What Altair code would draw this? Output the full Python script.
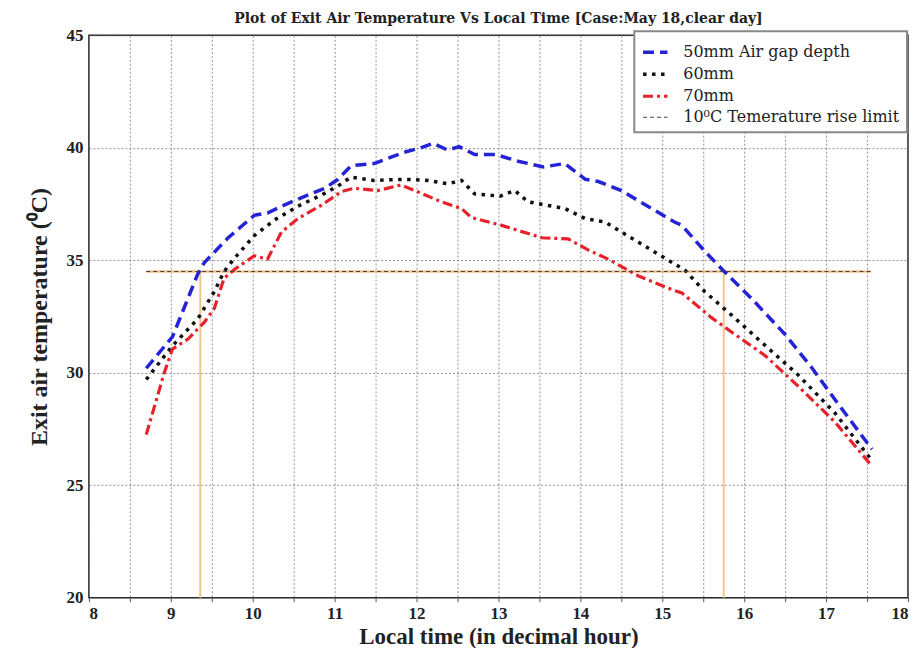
import altair as alt
import pandas as pd

# ---- data ----
hours_50 = [8.70, 9.02, 9.33, 9.41, 9.70, 10.02, 10.18, 10.35, 10.67, 10.88, 11.04, 11.20, 11.48,
            11.85, 12.05, 12.20, 12.38, 12.52, 12.71, 12.97, 13.24, 13.55, 13.81, 14.06, 14.22,
            14.50, 14.87, 15.15, 15.24, 15.52, 15.73, 16.09, 16.50, 16.83, 17.11, 17.56]
temp_50 = [30.2, 31.6, 34.4, 34.9, 36.0, 37.0, 37.1, 37.4, 37.9, 38.2, 38.6, 39.2, 39.3,
           39.8, 40.0, 40.2, 39.9, 40.05, 39.7, 39.7, 39.4, 39.15, 39.3, 38.6, 38.5,
           38.1, 37.3, 36.7, 36.55, 35.4, 34.6, 33.3, 31.7, 30.2, 28.8, 26.6]

hours_60 = [8.70, 9.02, 9.33, 9.53, 9.65, 9.78, 10.02, 10.27, 10.55, 10.84, 11.04, 11.20, 11.48,
            11.85, 12.14, 12.38, 12.55, 12.71, 13.02, 13.20, 13.36, 13.81, 14.06, 14.30, 14.71,
            15.12, 15.28, 15.52, 15.85, 16.26, 16.66, 17.11, 17.56]
temp_60 = [29.7, 31.2, 32.4, 33.6, 34.5, 35.1, 36.1, 36.8, 37.4, 37.9, 38.3, 38.7, 38.55,
           38.6, 38.55, 38.4, 38.55, 37.95, 37.85, 38.1, 37.6, 37.3, 36.85, 36.7, 35.8,
           34.9, 34.55, 33.6, 32.55, 31.2, 29.9, 28.2, 26.1]

hours_70 = [8.70, 8.92, 9.02, 9.21, 9.41, 9.53, 9.65, 9.78, 10.02, 10.18, 10.35, 10.55, 10.84,
            11.08, 11.24, 11.53, 11.81, 11.98, 12.30, 12.55, 12.67, 13.04, 13.53, 13.85, 14.10,
            14.34, 14.71, 15.15, 15.24, 15.60, 15.85, 16.26, 16.66, 17.11, 17.56]
temp_70 = [27.25, 30.0, 31.05, 31.5, 32.25, 32.85, 34.2, 34.6, 35.2, 35.05, 36.25, 36.85, 37.45,
           38.05, 38.2, 38.1, 38.35, 38.1, 37.6, 37.3, 36.9, 36.55, 36.0, 35.95, 35.45,
           35.05, 34.3, 33.65, 33.55, 32.45, 31.8, 30.75, 29.4, 27.8, 25.85]

limit_hours = [8.70, 17.55]
limit_temp = [34.5, 34.5]

cross_hours = [9.36, 15.75]

series_names = ["50mm Air gap depth", "60mm", "70mm", "10\u2070C Temerature rise limit"]
series_colors = ["#2424d6", "#111111", "#e8222a", "#444444"]
series_dash = [[11, 6], [3.5, 5.5], [10, 4, 3, 4], [4, 3]]
series_width = [3.5, 3.5, 3.2, 1.2]

rows = []
for name, hs, ts in zip(series_names,
                        [hours_50, hours_60, hours_70, limit_hours],
                        [temp_50, temp_60, temp_70, limit_temp]):
    for h, t in zip(hs, ts):
        rows.append({"hour": h, "temp": t, "series": name})
df = pd.DataFrame(rows)
df_limit = pd.DataFrame({"hour": limit_hours, "temp": limit_temp})
df_cross = pd.DataFrame({"hour": cross_hours, "top": [34.5] * len(cross_hours),
                         "bottom": [20] * len(cross_hours)})

FONT = "Liberation Serif"
WIDE = "DejaVu Serif"
x_scale = alt.Scale(domain=[8, 18], nice=False)
y_scale = alt.Scale(domain=[20, 45], nice=False)

x_ticks = [8 + 0.5 * i for i in range(21)]
y_ticks = [20, 25, 30, 35, 40, 45]

x_enc = alt.X("hour:Q", scale=x_scale,
              axis=alt.Axis(values=x_ticks, title="Local time (in decimal hour)",
                            labelExpr="datum.value % 1 == 0 ? format(datum.value, 'd') : ''",
                            ticks=True, tickSize=4, tickColor="#555"))
y_enc = alt.Y("temp:Q", scale=y_scale,
              axis=alt.Axis(values=y_ticks, title="Exit air temperature (\u2070C)",
                            ticks=False))

cross = alt.Chart(df_cross).mark_rule(color="#f5c48c", strokeWidth=2).encode(
    x=alt.X("hour:Q", scale=x_scale),
    y=alt.Y("top:Q", scale=y_scale),
    y2="bottom:Q",
)

limit_under = alt.Chart(df_limit).mark_line(color="#f2c28e", strokeWidth=2.5).encode(
    x=alt.X("hour:Q", scale=x_scale),
    y=alt.Y("temp:Q", scale=y_scale),
)

legend = alt.Legend(title=None, orient="none", legendX=546, legendY=-4,
                    symbolType="stroke", symbolSize=600,
                    labelFont=WIDE, labelFontSize=16, labelColor="#222",
                    labelOffset=14, rowPadding=-4, padding=7,
                    strokeColor="#888", fillColor="white", labelLimit=400)

lines = alt.Chart(df).mark_line().encode(
    x=x_enc,
    y=y_enc,
    color=alt.Color("series:N",
                    scale=alt.Scale(domain=series_names, range=series_colors),
                    legend=legend),
    strokeDash=alt.StrokeDash("series:N",
                              scale=alt.Scale(domain=series_names, range=series_dash),
                              legend=legend),
    strokeWidth=alt.StrokeWidth("series:N",
                                scale=alt.Scale(type="ordinal", domain=series_names,
                                                range=series_width),
                                legend=legend),
    order=alt.Order("hour:Q"),
)

chart = alt.layer(cross, limit_under, lines).properties(
    width=820,
    height=563,
    title=alt.TitleParams("Plot of Exit Air Temperature Vs Local Time [Case:May 18,clear day]",
                          font=WIDE, fontSize=14, fontWeight="bold", color="#222",
                          anchor="middle", offset=0),
    autosize=alt.AutoSizeParams(type="none"),
    padding={"left": 81, "top": 27, "right": 2, "bottom": 50},
).configure_view(
    stroke="#222", strokeWidth=1.5
).configure_axis(
    labelFont=FONT, labelFontSize=17, labelFontWeight="bold", labelColor="#222",
    titleFont=FONT, titleFontSize=23, titleFontWeight="bold", titleColor="#222",
    grid=True, gridColor="#777", gridDash=[2, 2], gridWidth=1, gridOpacity=0.8,
    domain=False,
).configure_axisX(
    labelPadding=4, titlePadding=4,
).configure_axisY(
    labelPadding=6, titlePadding=14, titleFontSize=24,
).configure_legend(
    strokeWidth=2
)

chart.save("out.html", embed_options={"renderer": "svg", "actions": False})
